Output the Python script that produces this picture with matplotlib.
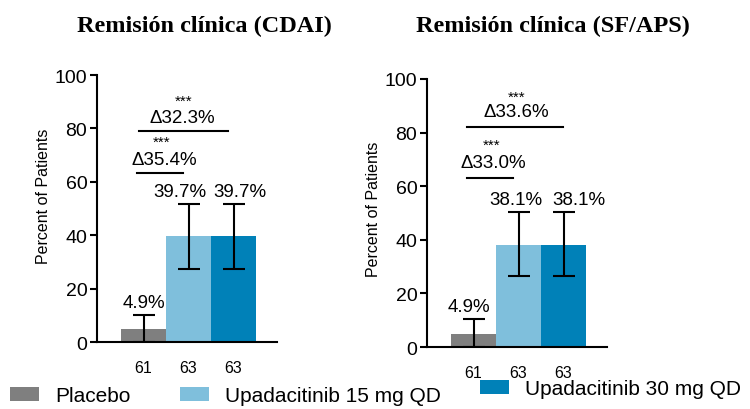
import matplotlib.pyplot as plt

plt.rcParams['font.family'] = ['Liberation Sans', 'DejaVu Sans']

groups = ['Placebo', 'Upadacitinib 15 mg QD', 'Upadacitinib 30 mg QD']
colors = ['#7f7f7f', '#7fbfdc', '#0081b8']
n_patients = ['61', '63', '63']

titles = ['Remisión clínica (CDAI)', 'Remisión clínica (SF/APS)']
rates = [[4.9, 39.7, 39.7], [4.9, 38.1, 38.1]]
ci_low = [[0.0, 27.5, 27.5], [0.0, 26.5, 26.5]]
ci_high = [[10.0, 51.8, 51.8], [10.4, 50.4, 50.4]]
delta_15 = ['Δ35.4%', 'Δ33.0%']
delta_30 = ['Δ32.3%', 'Δ33.6%']

fig = plt.figure(figsize=(7.5, 4.1), dpi=100)
axes = [fig.add_axes([0.1293, 0.1634, 0.24, 0.651]),
        fig.add_axes([0.5693, 0.151, 0.24, 0.654])]

# per-panel layout of the value labels and comparison brackets
label_dx = [[0.0, -0.2, 0.15], [-0.1, -0.05, 0.35]]
br15 = [dict(x0=-0.14, x1=0.88, y=63.3, tx=0.46, ty=68.2, sx=0.41, sy=74.9),
        dict(x0=-0.14, x1=0.88, y=63.0, tx=0.44, ty=68.7, sx=0.40, sy=75.5)]
br30 = [dict(x0=-0.10, x1=1.88, y=79.0, tx=0.86, ty=84.3, sx=0.88, sy=90.3),
        dict(x0=-0.14, x1=1.98, y=82.0, tx=0.94, ty=87.7, sx=0.96, sy=93.3)]
title_x = [0.272, 0.737]
ylabel_x = [0.058, 0.498]
ylabel_y = [0.52, 0.49]

for i, ax in enumerate(axes):
    x = [0, 1, 2]
    vals = rates[i]
    lo = [v - l for v, l in zip(vals, ci_low[i])]
    hi = [h - v for v, h in zip(vals, ci_high[i])]
    bars = ax.bar(x, vals, width=1.0, color=colors, label=groups, zorder=2)
    ax.errorbar(x, vals, yerr=[lo, hi], fmt='none', ecolor='black',
                elinewidth=1.5, capsize=8, capthick=1.5, zorder=3)

    for xi, v, top, dx in zip(x, vals, ci_high[i], label_dx[i]):
        ax.text(xi + dx, top + 1.5, f'{v:.1f}%', ha='center', va='bottom',
                fontsize=13.5)

    for b in (br15[i], br30[i]):
        ax.plot([b['x0'], b['x1']], [b['y'], b['y']], color='black',
                lw=1.5, clip_on=False)
    for b, txt in ((br15[i], delta_15[i]), (br30[i], delta_30[i])):
        ax.text(b['tx'], b['ty'], txt, ha='center', va='center', fontsize=13.5)
        ax.text(b['sx'], b['sy'], '***', ha='center', va='center', fontsize=11)

    ax.set_xlim(-1.035, 2.965)
    ax.set_ylim(0, 100)
    ax.set_yticks([0, 20, 40, 60, 80, 100])
    ax.set_xticks(x)
    ax.set_xticklabels(n_patients, fontsize=11.5)
    ax.tick_params(axis='x', length=0, pad=13)
    ax.tick_params(axis='y', length=5, width=1.5, labelsize=14, pad=2,
                   colors='black')
    for side in ['top', 'right']:
        ax.spines[side].set_visible(False)
    for side in ['left', 'bottom']:
        ax.spines[side].set_linewidth(1.5)

    fig.text(title_x[i], 0.935, titles[i], ha='center', va='center',
             fontsize=17.5, fontweight='bold', family='Liberation Serif')
    fig.text(ylabel_x[i], ylabel_y[i], 'Percent of Patients', rotation=90,
             ha='center', va='center', fontsize=11.5)

# one legend entry per group, placed along the bottom edge
legend_pos = [(0.0133, 0.032), (0.24, 0.032), (0.64, 0.049)]
for patch, name, pos in zip(axes[0].patches[:3], groups, legend_pos):
    fig.legend([patch], [name], loc='center left', bbox_to_anchor=pos,
               frameon=False, fontsize=15, handlelength=1.4,
               handleheight=0.7, handletextpad=0.75,
               borderaxespad=0, borderpad=0)

fig.savefig('out.png', dpi=100)
